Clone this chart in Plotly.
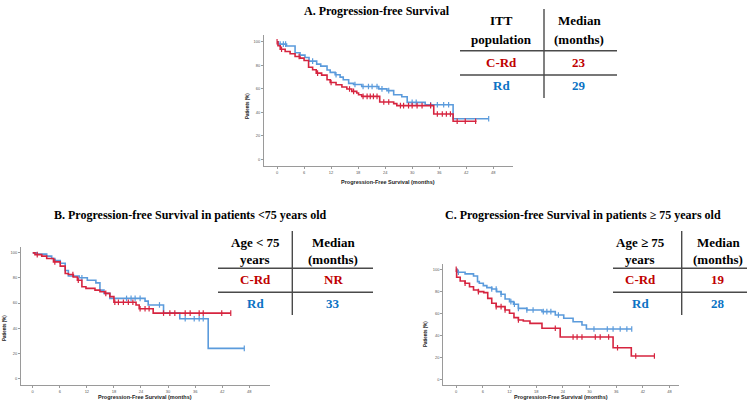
import plotly.graph_objects as go

W, H = 754, 404
RED = "#d6243f"
BLUE = "#5b9bdc"
TRED = "#c00000"
TBLUE = "#0b72c4"

# ---------------- data (months, % progression-free) ----------------
# Panel A: ITT population
A_crd_t = [0.2, 0.7, 1.8, 2.9, 4.0, 5.1, 6.0, 7.0, 7.9, 8.7, 9.9, 11.1, 11.8, 13.1, 14.4, 15.5, 16.6, 17.7, 18.1, 18.8, 22.8, 25.9, 26.6, 34.8, 39.1]
A_crd_s = [96.6, 93.7, 91.8, 89.8, 87.5, 86.1, 84.1, 78.4, 76.2, 73.4, 71.7, 67.7, 65.4, 63.5, 61.5, 59.8, 57.8, 56.4, 55.0, 53.6, 48.8, 47.4, 45.7, 38.6, 32.4]
A_crd_end = 44.3
A_crd_cens = [0.0, 1.0, 4.9, 9.0, 12.0, 16.1, 17.0, 19.1, 20.0, 20.7, 21.4, 22.2, 23.7, 24.8, 27.4, 28.1, 29.2, 30.0, 31.1, 32.2, 34.1, 35.6, 36.7, 37.6, 38.5, 40.0, 41.8, 44.1]
A_rd_t = [0.3, 2.1, 4.0, 5.1, 6.2, 7.1, 8.8, 9.7, 11.1, 11.8, 12.9, 14.0, 14.7, 15.9, 17.0, 18.8, 22.6, 24.4, 25.9, 27.7, 28.9, 32.9, 39.1]
A_rd_s = [98.0, 96.5, 90.7, 88.7, 86.7, 83.6, 81.0, 79.3, 76.0, 74.0, 72.0, 70.0, 67.7, 64.6, 63.7, 62.0, 60.0, 58.5, 55.0, 53.3, 48.5, 46.5, 34.5]
A_rd_end = 47.0
A_rd_cens = [0.7, 1.4, 1.9, 7.9, 13.1, 17.3, 19.1, 20.3, 21.1, 22.2, 23.3, 24.8, 30.0, 30.9, 34.1, 35.6, 37.0, 38.1, 47.0]

# Panel B: age < 75
B_crd_t = [0.5, 2.0, 3.1, 4.6, 6.1, 7.2, 7.9, 9.0, 9.9, 10.9, 11.8, 13.8, 14.9, 16.0, 17.1, 18.0, 22.9, 23.6, 26.7]
B_crd_s = [98.6, 97.4, 95.5, 92.8, 89.4, 83.5, 82.7, 80.8, 78.2, 73.0, 71.7, 70.3, 69.0, 67.7, 65.1, 60.6, 58.4, 55.5, 52.0]
B_crd_end = 43.9
B_crd_cens = [1.0, 4.9, 8.9, 10.1, 16.2, 18.2, 19.0, 20.1, 21.2, 22.2, 23.8, 24.9, 25.8, 29.0, 30.4, 31.5, 33.8, 34.9, 36.9, 37.8, 41.9, 43.9]
B_rd_t = [0.9, 3.1, 4.2, 4.9, 6.1, 7.2, 7.9, 10.3, 12.1, 14.0, 14.9, 15.8, 17.1, 24.9, 25.6, 29.0, 32.6, 38.9]
B_rd_s = [99.0, 97.4, 95.5, 93.8, 91.7, 85.9, 81.5, 80.2, 78.2, 76.1, 70.3, 67.7, 63.7, 61.5, 58.5, 52.0, 47.5, 23.9]
B_rd_end = 46.9
B_rd_cens = [10.9, 20.8, 21.8, 22.7, 23.8, 28.1, 33.8, 35.8, 36.9, 37.8, 46.9]

# Panel C: age >= 75
C_crd_t = [0.1, 0.9, 2.0, 3.0, 3.9, 5.0, 6.2, 7.1, 8.0, 9.0, 11.0, 12.0, 13.0, 14.0, 15.1, 16.6, 19.3, 23.4, 35.3, 39.4]
C_crd_s = [92.7, 89.4, 87.3, 84.2, 81.2, 79.7, 78.8, 73.6, 69.1, 66.1, 63.0, 60.0, 56.1, 53.9, 53.0, 50.9, 46.4, 38.5, 28.7, 21.2]
C_crd_end = 44.6
C_crd_cens = [0.0, 2.0, 5.0, 9.0, 10.1, 11.0, 14.0, 22.3, 26.3, 27.2, 28.3, 31.3, 32.4, 34.3, 36.3, 40.4, 44.6]
C_rd_t = [0.2, 2.0, 3.9, 4.8, 5.2, 6.1, 6.9, 8.0, 9.1, 10.1, 11.0, 12.0, 12.9, 14.0, 15.9, 19.3, 22.3, 24.2, 26.3, 28.3, 29.3]
C_rd_s = [97.3, 95.8, 93.9, 88.8, 87.3, 85.2, 83.3, 82.1, 79.7, 77.3, 73.0, 70.6, 68.2, 64.5, 63.0, 61.5, 58.5, 55.5, 52.4, 49.4, 45.7]
C_rd_end = 39.5
C_rd_cens = [0.5, 8.0, 9.0, 10.1, 12.3, 13.1, 14.0, 15.9, 17.3, 19.6, 20.4, 21.3, 23.0, 31.0, 34.0, 35.3, 36.9, 38.4, 39.5]

x_ticks = [0, 6, 12, 18, 24, 30, 36, 42, 48]
y_ticks = [0, 20, 40, 60, 80, 100]

titles = ["A. Progression-free Survival",
          "B. Progression-free Survival in patients <75 years old",
          "C. Progression-free Survival in patients \u2265 75 years old"]
tab_head1 = [["ITT", "Median"], ["Age < 75", "Median"], ["Age \u2265 75", "Median"]]
tab_head2 = [["population", "(months)"], ["years", "(months)"], ["years", "(months)"]]
tab_arms = ["C-Rd", "Rd"]
tab_medians = [["23", "29"], ["NR", "33"], ["19", "28"]]
x_title = "Progression-Free Survival (months)"
y_title = "Patients (%)"

# ---------------- helpers ----------------
def step_xy(t, s, end):
    xs = [0.0] + list(t) + [end]
    ys = [100.0] + list(s) + [s[-1]]
    return xs, ys

def surv_at(t, s, x):
    v = 100.0
    for ti, si in zip(t, s):
        if ti <= x:
            v = si
    return v

def px(x):
    return x / W

def py(y):
    return 1 - y / H

fig = go.Figure()

panels = [
    dict(ax="", t1=(A_crd_t, A_crd_s, A_crd_end, A_crd_cens), t2=(A_rd_t, A_rd_s, A_rd_end, A_rd_cens),
         xdom=(264, 513), ydom=(35, 165.7), xr=[-2.9, 52.4], yr=[-5.4, 105.8]),
    dict(ax="2", t1=(B_crd_t, B_crd_s, B_crd_end, B_crd_cens), t2=(B_rd_t, B_rd_s, B_rd_end, B_rd_cens),
         xdom=(21, 270), ydom=(246.7, 385), xr=[-2.6, 52.6], yr=[-5.3, 104.9]),
    dict(ax="3", t1=(C_crd_t, C_crd_s, C_crd_end, C_crd_cens), t2=(C_rd_t, C_rd_s, C_rd_end, C_rd_cens),
         xdom=(443.3, 679.3), ydom=(264, 385), xr=[-2.9, 50.2], yr=[-5.1, 104.8]),
]

layout_axes = {}
for p in panels:
    a = p["ax"]
    for (t, s, end, cens), col in [(p["t2"], BLUE), (p["t1"], RED)]:
        xs, ys = step_xy(t, s, end)
        fig.add_trace(go.Scatter(x=xs, y=ys, mode="lines", line=dict(color=col, width=1.6, shape="hv"),
                                 xaxis="x" + a, yaxis="y" + a, showlegend=False, hoverinfo="skip"))
        fig.add_trace(go.Scatter(x=cens, y=[surv_at(t, s, c) for c in cens], mode="markers",
                                 marker=dict(symbol="line-ns", size=4, line=dict(color=col, width=1.2)),
                                 xaxis="x" + a, yaxis="y" + a, showlegend=False, hoverinfo="skip"))
    common = dict(showline=True, linecolor="#9a9a9a", linewidth=1, ticks="outside", ticklen=2,
                  tickcolor="#9a9a9a", tickfont=dict(size=4, color="#555", family="Liberation Sans"),
                  showgrid=False, zeroline=False, fixedrange=True)
    layout_axes["xaxis" + a] = dict(common, domain=[px(p["xdom"][0]), px(p["xdom"][1])], range=p["xr"],
                                    tickvals=x_ticks, anchor="y" + a)
    layout_axes["yaxis" + a] = dict(common, domain=[py(p["ydom"][1]), py(p["ydom"][0])], range=p["yr"],
                                    tickvals=y_ticks, anchor="x" + a)

fig.update_layout(**layout_axes)

ann = []
shapes = []
serif = "Liberation Serif"

# panel titles
for txt, (x, y) in zip(titles, [(377, 11), (190, 215), (583, 215)]):
    ann.append(dict(text="<b>%s</b>" % txt, x=px(x), y=py(y), xref="paper", yref="paper",
                    showarrow=False, font=dict(family=serif, size=12, color="#000"),
                    xanchor="center", yanchor="middle"))

# axis titles
for (xc, yc), (yx, yy) in zip([(388, 182), (145, 397), (561, 397)], [(247, 106), (4, 328), (425, 334)]):
    ann.append(dict(text="<b>%s</b>" % x_title, x=px(xc), y=py(yc), xref="paper", yref="paper",
                    showarrow=False, font=dict(family="Liberation Sans", size=5.5, color="#222"),
                    xanchor="center", yanchor="middle"))
    ann.append(dict(text="<b>%s</b>" % y_title, x=px(yx), y=py(yy), xref="paper", yref="paper",
                    showarrow=False, font=dict(family="Liberation Sans", size=4.5, color="#222"),
                    xanchor="center", yanchor="middle", textangle=-90))

# tables
tables = [
    dict(c1=502, c2=579, h1=20, h2=40, r1=62, r2=86, l1=50.7, l2=75, lx0=460, lx1=617, vx=544, vy0=9, vy1=98),
    dict(c1=255, c2=333, h1=242, h2=259, r1=279, r2=303, l1=268.3, l2=292.3, lx0=218, lx1=373, vx=292.3, vy0=231, vy1=315),
    dict(c1=640, c2=718, h1=242, h2=259, r1=279, r2=303, l1=268.3, l2=292.3, lx0=613, lx1=747, vx=681.7, vy0=231, vy1=315),
]
for i, tb in enumerate(tables):
    def add(txt, x, y, col):
        ann.append(dict(text="<b>%s</b>" % txt, x=px(x), y=py(y), xref="paper", yref="paper",
                        showarrow=False, font=dict(family=serif, size=13, color=col),
                        xanchor="center", yanchor="middle"))
    add(tab_head1[i][0], tb["c1"], tb["h1"], "#000")
    add(tab_head1[i][1], tb["c2"], tb["h1"], "#000")
    add(tab_head2[i][0], tb["c1"], tb["h2"], "#000")
    add(tab_head2[i][1], tb["c2"], tb["h2"], "#000")
    add(tab_arms[0], tb["c1"], tb["r1"], TRED)
    add(tab_medians[i][0], tb["c2"], tb["r1"], TRED)
    add(tab_arms[1], tb["c1"], tb["r2"], TBLUE)
    add(tab_medians[i][1], tb["c2"], tb["r2"], TBLUE)
    for ly in (tb["l1"], tb["l2"]):
        shapes.append(dict(type="line", xref="paper", yref="paper", x0=px(tb["lx0"]), x1=px(tb["lx1"]),
                           y0=py(ly), y1=py(ly), line=dict(color="#4a4a4a", width=1.6)))
    shapes.append(dict(type="line", xref="paper", yref="paper", x0=px(tb["vx"]), x1=px(tb["vx"]),
                       y0=py(tb["vy0"]), y1=py(tb["vy1"]), line=dict(color="#4a4a4a", width=1.4)))

fig.update_layout(annotations=ann, shapes=shapes, width=W, height=H,
                  margin=dict(l=0, r=0, t=0, b=0), paper_bgcolor="white", plot_bgcolor="white")

fig.write_html("out.html", config={"displayModeBar": False},
               post_script="document.body.style.margin='0';document.body.style.padding='0';document.body.style.overflow='hidden';")
